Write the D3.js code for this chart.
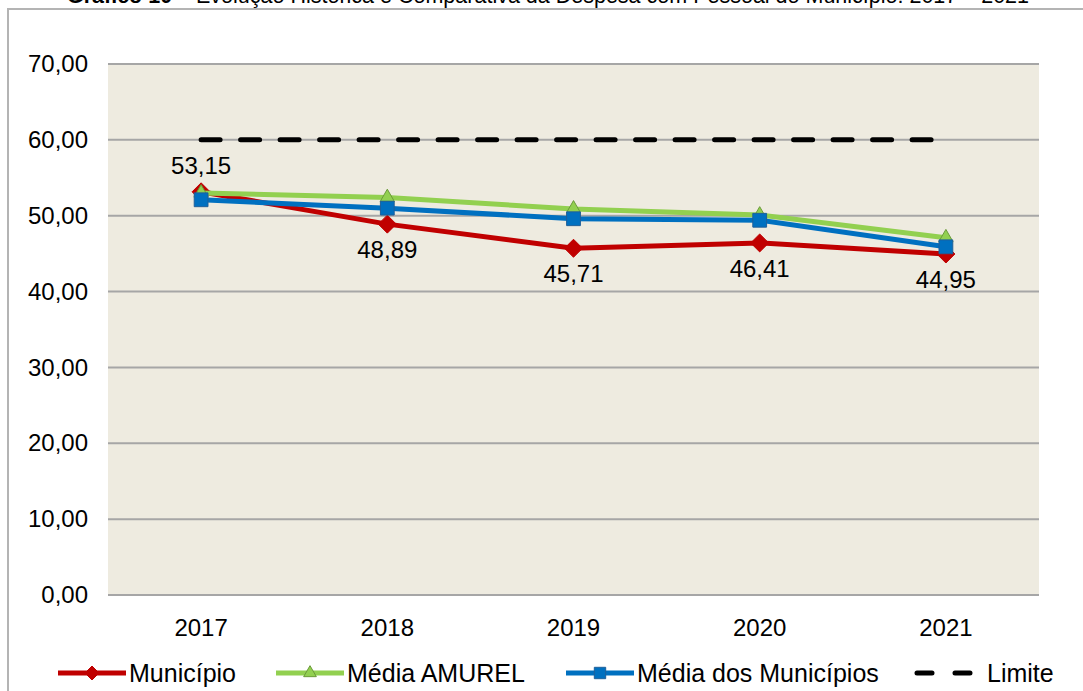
<!DOCTYPE html>
<html>
<head>
<meta charset="utf-8">
<title>Despesa com Pessoal</title>
<script src="https://cdn.jsdelivr.net/npm/d3@7"></script>
<style>
  body { margin: 0; background: #fff; }
  text { font-family: "Liberation Sans", Arial, sans-serif; fill: #000; }
</style>
</head>
<body>
<script>
// dados do gráfico
var anos = ["2017", "2018", "2019", "2020", "2021"];
var municipio = [53.15, 48.89, 45.71, 46.41, 44.95];
var mediaAmurel = [53.0, 52.4, 50.9, 50.1, 47.1];
var mediaMunicipios = [52.1, 51.0, 49.6, 49.4, 45.9];
var limite = [60, 60, 60, 60, 60];
var ticksY = [0, 10, 20, 30, 40, 50, 60, 70];

var W = 1083, H = 691;
var svg = d3.select("body").append("svg").attr("width", W).attr("height", H);

// moldura
svg.append("rect").attr("x", 8).attr("y", 9).attr("width", W + 20).attr("height", H + 20)
  .attr("fill", "#fff").attr("stroke", "#b4b4b4").attr("stroke-width", 2);

// título (cortado no topo)
var titulo = svg.append("text").attr("x", 548).attr("y", 3).attr("text-anchor", "middle")
  .style("font-size", "21.5px");
titulo.append("tspan").attr("font-weight", "bold").text("Gráfico 10");
titulo.append("tspan").text(" – Evolução Histórica e Comparativa da Despesa com Pessoal do Município: 2017 – 2021");

var x = d3.scaleBand().domain(anos).range([108, 1039]);
var y = d3.scaleLinear().domain([0, 70]).range([595, 64]);
var cx = function(d, i) { return x(anos[i]) + x.bandwidth() / 2; };

svg.append("rect").attr("x", 108).attr("y", 64).attr("width", 931).attr("height", 531)
  .attr("fill", "#eeebe0");

// grade
svg.append("g").selectAll("line").data(ticksY).enter().append("line")
  .attr("x1", 108).attr("x2", 1039)
  .attr("y1", function(d) { return y(d); }).attr("y2", function(d) { return y(d); })
  .attr("stroke", "#a6a6a6").attr("stroke-width", 2);

// eixos
var fmt = function(d) { return d3.format(".2f")(d).replace(".", ","); };
var eixoY = svg.append("g").attr("transform", "translate(100,0)")
  .call(d3.axisLeft(y).tickValues(ticksY).tickFormat(fmt).tickSize(0).tickPadding(12));
eixoY.select(".domain").remove();
eixoY.selectAll("text").style("font-size", "24px").attr("fill", "#000");

var eixoX = svg.append("g").attr("transform", "translate(0,595)")
  .call(d3.axisBottom(x).tickSize(0).tickPadding(24));
eixoX.select(".domain").remove();
eixoX.selectAll("text").style("font-size", "24px").attr("fill", "#000");

var linha = d3.line().x(cx).y(function(d) { return y(d); });

// limite
svg.append("path").datum(limite).attr("d", linha).attr("fill", "none")
  .attr("stroke", "#000").attr("stroke-width", 5).attr("stroke-linecap", "round")
  .attr("stroke-dasharray", "19,20.5");

var losango = function(s) { return "M0," + (-s) + "L" + s + ",0L0," + s + "L" + (-s) + ",0Z"; };
var triangulo = d3.symbol().type(d3.symbolTriangle).size(90);
var quadrado = d3.symbol().type(d3.symbolSquare).size(190);

var series = [
  { vals: municipio, cor: "#c00000", simb: losango(9), borda: "#c00000" },
  { vals: mediaAmurel, cor: "#92d050", simb: triangulo, borda: "#6b9a3a" },
  { vals: mediaMunicipios, cor: "#0070c0", simb: quadrado, borda: "#1f5f99" }
];

series.forEach(function(s) {
  svg.append("path").datum(s.vals).attr("d", linha).attr("fill", "none")
    .attr("stroke", s.cor).attr("stroke-width", 5).attr("stroke-linejoin", "round");
  svg.append("g").selectAll("path").data(s.vals).enter().append("path")
    .attr("d", s.simb)
    .attr("transform", function(d, i) { return "translate(" + cx(d, i) + "," + y(d) + ")"; })
    .attr("fill", s.cor).attr("stroke", s.borda).attr("stroke-width", 1);
});

// rótulos do município
svg.append("g").selectAll("text").data(municipio).enter().append("text")
  .attr("x", cx)
  .attr("y", function(d, i) { return i === 0 ? y(d) - 18 : y(d) + 34; })
  .attr("text-anchor", "middle").style("font-size", "24px")
  .text(function(d) { return fmt(d); });

// legenda
var legenda = [
  { nome: "Município", x: 58, cor: "#c00000", simb: losango(7), borda: "#c00000", dash: null },
  { nome: "Média AMUREL", x: 276, cor: "#92d050", simb: d3.symbol().type(d3.symbolTriangle).size(70)(), borda: "#6b9a3a", dash: null },
  { nome: "Média dos Municípios", x: 566, cor: "#0070c0", simb: d3.symbol().type(d3.symbolSquare).size(130)(), borda: "#1f5f99", dash: null },
  { nome: "Limite", x: 917, cor: "#000", simb: null, borda: null, dash: "15,23" }
];
var ly = 673;
legenda.forEach(function(l) {
  var g = svg.append("g");
  if (l.dash) {
    g.append("line").attr("x1", l.x).attr("x2", l.x + 56).attr("y1", ly).attr("y2", ly)
      .attr("stroke", l.cor).attr("stroke-width", 5).attr("stroke-dasharray", l.dash)
      .attr("stroke-linecap", "round");
  } else {
    g.append("line").attr("x1", l.x).attr("x2", l.x + 68).attr("y1", ly).attr("y2", ly)
      .attr("stroke", l.cor).attr("stroke-width", 5);
    g.append("path").attr("d", l.simb).attr("transform", "translate(" + (l.x + 34) + "," + ly + ")")
      .attr("fill", l.cor).attr("stroke", l.borda).attr("stroke-width", 1);
  }
  g.append("text").attr("x", l.dash ? l.x + 70 : l.x + 71).attr("y", ly + 9)
    .style("font-size", "25px").text(l.nome);
});
</script>
</body>
</html>
